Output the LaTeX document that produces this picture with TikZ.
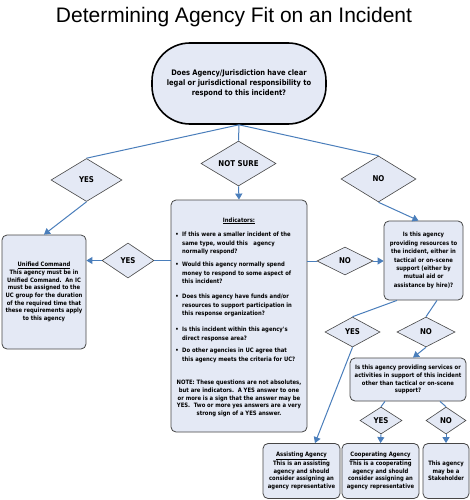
\documentclass[tikz,border=0pt]{standalone}
\usepackage{fontspec}
\setmainfont{DejaVu Sans}
\newfontfamily\bx{DejaVu Sans}[FakeStretch=0.88]
\newfontfamily\ttl{Liberation Sans}
\usetikzlibrary{shapes.geometric,arrows.meta,calc}
\definecolor{bfill}{RGB}{228,233,245}
\definecolor{bline}{RGB}{70,70,70}
\definecolor{cline}{RGB}{74,126,187}
\begin{document}
\begin{tikzpicture}[x=1pt,y=-1pt,
  box/.style={draw=bline,fill=bfill,rounded corners=5pt,line width=0.8pt,inner sep=0pt,align=center},
  dia/.style={diamond,shape aspect=1.7,draw=bline,fill=bfill,line width=0.6pt,inner sep=0pt,font=\bx\bfseries\fontsize{8}{9}\selectfont},
  conn/.style={draw=cline,line width=1pt},
  arr/.style={conn,-{Triangle[length=6pt,width=7pt]}},
  t6/.style={font=\bx\bfseries\fontsize{6}{7.7}\selectfont,inner sep=0pt,align=center},
  ti/.style={font=\bx\bfseries\fontsize{6}{8.3}\selectfont,inner sep=0pt,align=left,anchor=north west},
  bul/.style={font=\bx\bfseries\fontsize{6}{8.3}\selectfont,inner sep=0pt,anchor=base}]
\useasboundingbox (0,0) rectangle (470,500);
\fill[white] (0,0) rectangle (470,500);

\node[anchor=base,inner sep=0pt,font=\ttl\fontsize{21}{25}\selectfont] (title) at (234,23) {Determining Agency Fit on an Incident};

\node[box,draw=black,line width=1.6pt,rounded corners=38pt,minimum width=174pt,minimum height=81pt,font=\bx\bfseries\fontsize{7.6}{9.8}\selectfont] (q1) at (239,83.5) {Does Agency/Jurisdiction have clear\\legal or jurisdictional responsibility to\\respond to this incident?};

\node[dia,minimum width=71pt,minimum height=43pt] (y1) at (86.5,180) {YES};
\node[dia,minimum width=75pt,minimum height=45pt] (ns) at (238.5,163.5) {NOT SURE};
\node[dia,minimum width=75pt,minimum height=46pt] (n1) at (378.5,179) {NO};
\node[dia,minimum width=52pt,minimum height=35pt] (y2) at (128,260.5) {YES};
\node[dia,minimum width=56pt,minimum height=28pt] (n2) at (345,261) {NO};
\node[dia,minimum width=55pt,minimum height=30pt] (y3) at (352.5,332) {YES};
\node[dia,minimum width=58pt,minimum height=30pt] (n3) at (426,332) {NO};
\node[dia,minimum width=42pt,minimum height=27pt] (y4) at (381,420.5) {YES};
\node[dia,minimum width=40pt,minimum height=27pt] (n4) at (446,420.5) {NO};

\node[box,t6,minimum width=84pt,minimum height=114pt] (uc) at (44,292) {\underline{Unified Command}\\This agency must be in\\Unified Command.\ \ An IC\\must be assigned to the\\UC group for the duration\\of the required time that\\these requirements apply\\to this agency};

\node[box,minimum width=136pt,minimum height=232pt] (ind) at (239,316) {};
\node[t6,anchor=base] (indt) at (239,222) {\underline{Indicators:}};
\node[bul] (b1) at (177,236.6) {•};
\node[ti] (i1) at (182,232) {If this were a smaller incident of the\\same type, would this\ \ \ agency\\normally respond?};
\node[bul] (b2) at (177,266.6) {•};
\node[ti] (i2) at (182,262) {Would this agency normally spend\\money to respond to some aspect of\\this incident?};
\node[bul] (b3) at (177,298.6) {•};
\node[ti] (i3) at (182,294) {Does this agency have funds and/or\\resources to support participation in\\this response organization?};
\node[bul] (b4) at (177,331.6) {•};
\node[ti] (i4) at (182,327) {Is this incident within this agency's\\direct response area?};
\node[bul] (b5) at (177,352.6) {•};
\node[ti] (i5) at (182,348) {Do other agencies in UC agree that\\this agency meets the criteria for UC?};
\node[t6,anchor=north] (note) at (239,380) {NOTE: These questions are not absolutes,\\but are indicators.\ \ A YES answer to one\\or more is a sign that the answer may be\\YES.\ \ Two or more yes answers are a very\\strong sign of a YES answer.};

\node[box,font=\bx\bfseries\fontsize{6}{8.4}\selectfont,minimum width=79pt,minimum height=79pt] (res) at (423.5,260.5) {Is this agency\\providing resources to\\the incident, either in\\tactical or on-scene\\support (either by\\mutual aid or\\assistance by hire)?};

\node[box,t6,minimum width=116pt,minimum height=43pt] (svc) at (408,379.5) {Is this agency providing services or\\activities in support of this incident\\other than tactical or on-scene\\support?};

\node[box,t6,minimum width=77pt,minimum height=55pt] (as) at (301.5,471) {\underline{Assisting Agency}\\This is an assisting\\agency and should\\consider assigning an\\agency representative};
\node[box,t6,minimum width=77pt,minimum height=55pt] (coop) at (380.5,471) {\underline{Cooperating Agency}\\This is a cooperating\\agency and should\\consider assigning an\\agency representative};
\node[box,t6,minimum width=46pt,minimum height=55pt] (stake) at (446,471) {This agency\\may be a\\Stakeholder};

\draw[conn] (q1.south) -- (y1.north);
\draw[conn] (q1.south) -- (ns.north);
\draw[conn] (q1.south) -- (n1.north);
\draw[arr] (y1.south) -- (uc.north);
\draw[arr] (ns.south) -- (ind.north);
\draw[arr] (n1.south) -- ([xshift=-5pt]res.north);
\draw[conn] (y2.east -| ind.west) -- (y2.east);
\draw[arr] (y2.west) -- (y2.west -| uc.east);
\draw[conn] (n2.west -| ind.east) -- (n2.west);
\draw[arr] (n2.east) -- (n2.east -| res.west);
\draw[conn] ([xshift=-26.5pt]res.south) -- (y3.north);
\draw[conn] ([xshift=13.5pt]res.south) -- (n3.north);
\draw[arr] (y3.south) -- ([xshift=13.5pt]as.north);
\draw[arr] (n3.south) -- ([xshift=5pt]svc.north);
\draw[conn] ([xshift=-23pt]svc.south) -- (y4.north);
\draw[conn] ([xshift=32pt]svc.south) -- (n4.north);
\draw[arr] (y4.south) -- (coop.north);
\draw[arr] (n4.south) -- (stake.north);
\end{tikzpicture}
\end{document}
